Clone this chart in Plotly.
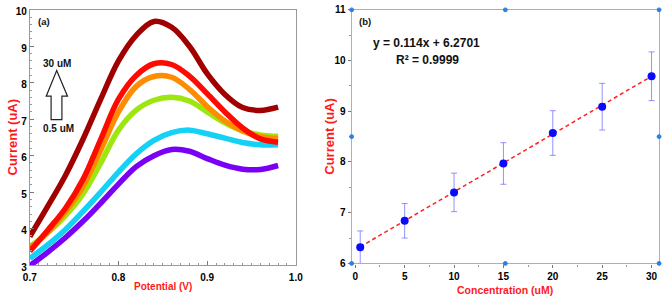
import plotly.graph_objects as go

# ---------------- data ----------------
potential = [0.70, 0.72, 0.74, 0.76, 0.78, 0.80, 0.82, 0.84, 0.86, 0.88, 0.90, 0.92, 0.94, 0.96, 0.98]
cur_30uM = [3.78, 4.60, 5.45, 6.45, 7.55, 8.60, 9.30, 9.68, 9.52, 9.00, 8.25, 7.68, 7.32, 7.24, 7.33]
cur_25uM = [3.38, 3.95, 4.55, 5.35, 6.45, 7.55, 8.20, 8.52, 8.50, 8.18, 7.70, 7.20, 6.76, 6.46, 6.37]
cur_20uM = [3.45, 3.90, 4.45, 5.15, 6.15, 7.20, 7.90, 8.17, 8.15, 7.82, 7.35, 6.95, 6.68, 6.52, 6.47]
cur_15uM = [3.50, 3.88, 4.35, 4.95, 5.80, 6.70, 7.25, 7.52, 7.60, 7.50, 7.20, 6.90, 6.68, 6.57, 6.53]
cur_5uM = [3.18, 3.55, 3.97, 4.47, 5.00, 5.55, 6.05, 6.42, 6.63, 6.70, 6.60, 6.48, 6.36, 6.30, 6.30]
cur_05uM = [2.98, 3.35, 3.75, 4.20, 4.70, 5.22, 5.70, 6.00, 6.17, 6.12, 5.92, 5.74, 5.63, 5.62, 5.73]

conc = [0.5, 5, 10, 15, 20, 25, 30]
peak_current = [6.32, 6.84, 7.40, 7.97, 8.57, 9.09, 9.69]
peak_err = [0.32, 0.34, 0.38, 0.41, 0.44, 0.46, 0.48]
fit_slope = 0.114
fit_intercept = 6.2701

# ---------------- figure ----------------
W, H = 669, 305
fig = go.Figure()

series_a = [
    (cur_05uM, "#7a00f5"),
    (cur_5uM, "#14d2f5"),
    (cur_15uM, "#9ee610"),
    (cur_20uM, "#ff8c00"),
    (cur_25uM, "#ff0a00"),
    (cur_30uM, "#a00000"),
]
for ys, col in series_a:
    fig.add_trace(go.Scatter(x=potential, y=ys, mode="lines", line=dict(color=col, width=5.5, shape="spline"),
                             xaxis="x", yaxis="y", showlegend=False, hoverinfo="skip"))

# panel b
fit_x = [conc[0], conc[-1]]
fit_y = [fit_slope * v + fit_intercept for v in fit_x]
fig.add_trace(go.Scatter(x=fit_x, y=fit_y, mode="lines", line=dict(color="#ff2020", width=1.5, dash="4px,3px"),
                         xaxis="x2", yaxis="y2", showlegend=False))
fig.add_trace(go.Scatter(x=conc, y=peak_current, mode="markers",
                         marker=dict(color="#0a0aff", size=8, line=dict(width=0)),
                         error_y=dict(type="data", array=peak_err, visible=True, color="rgba(110,110,255,0.75)",
                                      thickness=1, width=3),
                         xaxis="x2", yaxis="y2", showlegend=False))

tickf = dict(family="Liberation Sans, Arial, sans-serif", size=10, color="black", weight="bold")

fig.update_layout(
    width=W, height=H, margin=dict(l=0, r=0, t=0, b=0),
    paper_bgcolor="white", plot_bgcolor="white",
    xaxis=dict(domain=[23.3 / W, 295 / W], range=[0.7, 1.0], tickvals=[0.7, 0.8, 0.9, 1.0], tickformat=".1f",
               ticks="inside", ticklen=4, tickcolor="#777", showline=True, linecolor="#999", linewidth=1,
               mirror=True, showgrid=False, zeroline=False, tickfont=tickf, ticklabeloverflow="allow",
               ticklabelstandoff=3,
               minor=dict(dtick=0.01, ticks="inside", ticklen=2, tickcolor="#999")),
    yaxis=dict(domain=[1 - 270.7 / H, 1 - 5 / H], range=[3, 10], dtick=1,
               ticks="inside", ticklen=4, tickcolor="#777", showline=True, linecolor="#999", linewidth=1,
               mirror=True, showgrid=False, zeroline=False, tickfont=tickf, ticklabeloverflow="allow",
               ticklabelshift=2,
               minor=dict(dtick=0.2, ticks="inside", ticklen=2, tickcolor="#999")),
    xaxis2=dict(domain=[352 / W, 666 / W], range=[-0.37, 30.76], tickvals=[0, 5, 10, 15, 20, 25, 30],
                ticks="outside", ticklen=3, tickcolor="#777", showline=True, linecolor="#c9aa84", linewidth=1.2,
                mirror=True, showgrid=False, zeroline=False, tickfont=tickf, anchor="y2",
                ticklabeloverflow="allow",
                minor=dict(dtick=2.5, ticks="outside", ticklen=2, tickcolor="#999")),
    yaxis2=dict(domain=[1 - 269 / H, 1 - 5 / H], range=[6, 11], dtick=1, anchor="x2",
                ticks="outside", ticklen=3, tickcolor="#777", showline=True, linecolor="#c9aa84", linewidth=1.2,
                mirror=True, showgrid=False, zeroline=False, tickfont=tickf, ticklabeloverflow="allow",
                minor=dict(dtick=0.5, ticks="outside", ticklen=2, tickcolor="#999")),
)

def P(px, py):
    return px / W, 1 - py / H

red_title = dict(family="Liberation Sans, Arial, sans-serif", size=13, color="#ff1a1a", weight="bold")
annots = [
    ("Current (uA)", 6, 137, red_title, -90),
    ("Potential (V)", 159, 293, dict(red_title, size=10), 0),
    ("Current (uA)", 329, 137, red_title, -90),
    ("Concentration (uM)", 509, 297, dict(red_title, size=10.5), 0),
]
for txt, px, py, f, ang in annots:
    x, y = P(px, py)
    fig.add_annotation(text=txt, x=x, y=y, xref="paper", yref="paper", showarrow=False, font=f, textangle=ang,
                       xanchor="center", yanchor="middle")

dark = dict(family="Liberation Sans, Arial, sans-serif", color="#111", weight="bold")
for txt, px, py, sz in [("(a)", 38, 17, 9.5), ("30 uM", 51.5, 61, 10), ("0.5 uM", 53, 128.5, 10),
                        ("(b)", 366, 17, 9.5), ("y = 0.114x + 6.2701", 428, 40, 12), ("R² = 0.9999", 429, 57, 12)]:
    x, y = P(px, py)
    fig.add_annotation(text=txt, x=x, y=y, xref="paper", yref="paper", showarrow=False,
                       font=dict(dark, size=sz), xanchor="center", yanchor="middle")

# hollow arrow in panel a (data coordinates of panel a)
arrow_pts = [(0.7303, 8.334), (0.7425, 7.632), (0.7362, 7.632), (0.7362, 6.99), (0.724, 6.99), (0.724, 7.632), (0.7185, 7.632)]
path = "M " + " L ".join(f"{a},{b}" for a, b in arrow_pts) + " Z"
fig.add_shape(type="path", path=path, xref="x", yref="y", line=dict(color="#222", width=1.2), fillcolor="white")

# selection handles on panel b frame
handles = [(352, 5), (509, 5), (666, 5), (352, 137), (666, 137), (352, 269), (509, 269), (666, 269)]
for px, py in handles:
    fig.add_shape(type="circle", xref="paper", yref="paper",
                  x0=(px - 2) / W, x1=(px + 2) / W, y0=1 - (py + 2) / H, y1=1 - (py - 2) / H,
                  line=dict(color="#2f7fe0", width=1), fillcolor="#2f7fe0")

fig.write_html("out.html")
